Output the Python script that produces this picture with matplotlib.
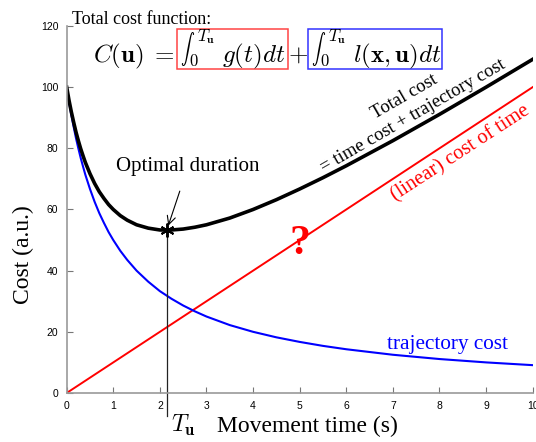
import matplotlib.pyplot as plt
from matplotlib.patches import Rectangle

plt.rcParams['mathtext.fontset'] = 'cm'

# Data
t = [0, 0.05, 0.1, 0.15, 0.2, 0.25, 0.3, 0.35, 0.4, 0.5, 0.6, 0.7, 0.8, 0.9,
     1.0, 1.15, 1.3, 1.5, 1.75, 2.0, 2.25, 2.5, 2.75, 3.0, 3.5, 4.0, 4.5,
     5.0, 5.5, 6.0, 7.0, 8.0, 9.0, 10.0]
traj_cost = [100, 95.2, 90.9, 87.0, 83.3, 80.0, 76.9, 74.1, 71.4, 66.7, 62.5,
             58.8, 55.6, 52.6, 50.0, 46.5, 43.5, 40.0, 36.4, 33.3, 30.8, 28.6,
             26.7, 25.0, 22.2, 20.0, 18.2, 16.7, 15.4, 14.3, 12.5, 11.1, 10.0,
             9.1]
total_cost = [100, 95.7, 91.9, 88.5, 85.3, 82.5, 79.9, 77.6, 75.4, 71.7, 68.5,
              65.8, 63.6, 61.6, 60.0, 58.0, 56.5, 55.0, 53.9, 53.3, 53.3, 53.6,
              54.2, 55.0, 57.2, 60.0, 63.2, 66.7, 70.4, 74.3, 82.5, 91.1, 100.0,
              109.1]
time_t = [0, 10]
time_cost = [0, 100]
t_opt = 2.16
c_opt = 53.2

W, H = 536, 442
fig = plt.figure(figsize=(W / 100, H / 100), dpi=100)
ax = fig.add_axes([0.1244, 0.1109, 0.8694, 0.8303])

ax.plot(time_t, time_cost, color='red', lw=1.4)
ax.plot(t, traj_cost, color='blue', lw=1.5)
ax.plot(t, total_cost, color='black', lw=2.6, solid_joinstyle='round')
ax.plot([t_opt, t_opt], [c_opt, -7.5], color='#222222', lw=0.9, clip_on=False)
ax.plot([t_opt], [c_opt], marker=(6, 2, 0), color='black', ms=10, mew=1.4)

ax.set_xlim(0, 10)
ax.set_ylim(0, 120)
ax.set_xticks(range(0, 11))
ax.set_yticks(range(0, 121, 20))
for s in ['top', 'right']:
    ax.spines[s].set_visible(False)
for s in ['left', 'bottom']:
    ax.spines[s].set_color('#999999')
    ax.spines[s].set_linewidth(1.2)
ax.tick_params(direction='in', length=4, color='#777777', labelsize=7.5,
               pad=6)
for lab in ax.get_xticklabels() + ax.get_yticklabels():
    lab.set_family('Liberation Sans')

serif = 'Liberation Serif'
ax.annotate('Optimal duration', xy=(t_opt + 0.02, c_opt + 1.5),
            xytext=(2.6, 73.9), ha='center', va='center', fontsize=15,
            family=serif,
            arrowprops=dict(arrowstyle='->', color='black', lw=0.8,
                            shrinkA=9, shrinkB=0))
ax.text(7.24, 96.9, 'Total cost', rotation=30, ha='center', va='center',
        fontsize=13.5, family=serif)
ax.text(7.44, 90.6, '= time cost + trajectory cost', rotation=30,
        ha='center', va='center', fontsize=13.5, family=serif)
ax.text(8.45, 78.4, '(linear) cost of time', rotation=33, color='red',
        ha='center', va='center', fontsize=14.7, family=serif)
ax.text(8.18, 14.3, 'trajectory cost', color='blue', ha='center',
        va='baseline', fontsize=15.3, family=serif)
ax.text(5.01, 48.7, '?', color='red', ha='center', va='center',
        fontsize=30, family=serif, fontweight='bold')


def px(x, y):
    return x / W, 1 - y / H


fig.text(*px(171, 432), r'$T_{\mathbf{u}}$', ha='left', va='baseline',
         fontsize=17)
fig.text(*px(307, 432), 'Movement time (s)', ha='center', va='baseline',
         fontsize=17, family=serif)
fig.text(*px(23, 255), 'Cost (a.u.)', rotation=90, ha='center',
         va='center', fontsize=17, family=serif)
fig.text(*px(72, 19), 'Total cost function:', ha='left', va='center',
         fontsize=13, family=serif)

# cost formula, built piece by piece
base = 62
fig.text(*px(93, base), r'$C(\mathbf{u})\;=$', va='baseline', fontsize=18)
fig.text(*px(298, base), r'$+$', ha='center', va='baseline', fontsize=18)
boxes = [(177, 288, '#ff4444', r'$g(t)dt$'),
         (308, 442, '#3333ff', r'$l(\mathbf{x},\mathbf{u})dt$')]
for x0, x1, col, body in boxes:
    fig.patches.append(Rectangle(px(x0, 69), (x1 - x0) / W, 40 / H,
                                 transform=fig.transFigure, fill=False,
                                 ec=col, lw=1.1))
    fig.text(*px(x0 + 3, 49), r'$\int$', va='center', fontsize=10)
    fig.text(*px(x0 + 20, 37), r'$T_{\mathbf{u}}$', va='center',
             fontsize=12)
    fig.text(*px(x0 + 12, 61), r'$0$', va='center', fontsize=12)
    fig.text(*px(x0 + 45, base), body, va='baseline', fontsize=18)

fig.savefig('out.png', dpi=100)
